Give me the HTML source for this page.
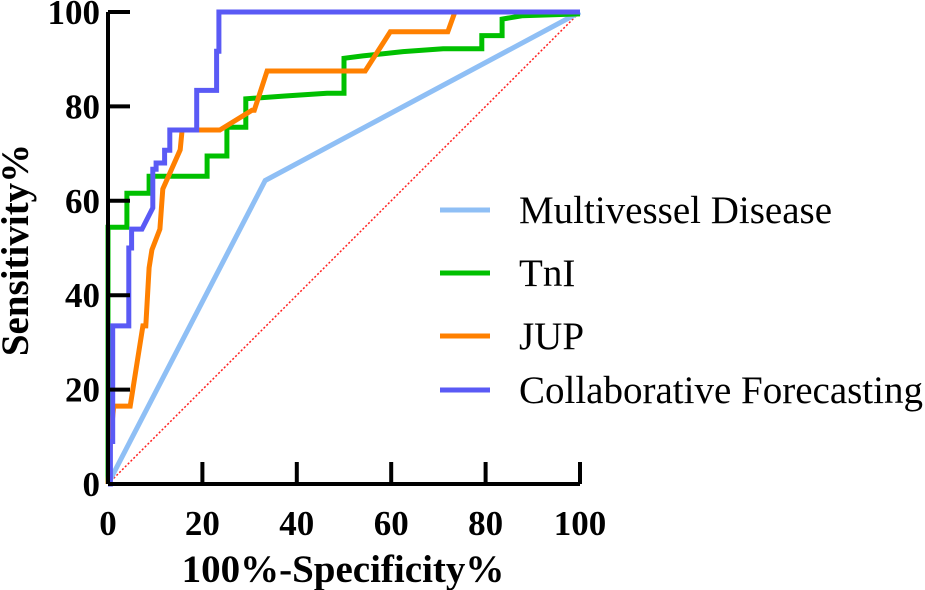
<!DOCTYPE html>
<html><head><meta charset="utf-8"><style>
html,body{margin:0;padding:0;background:#fff;}
svg{display:block;font-family:"Liberation Serif",serif;}
</style></head><body>
<svg id="chart" width="925" height="590" viewBox="0 0 925 590">
<g id="marks"></g>
<g id="axes"></g>
<g id="legend"></g>
</svg>
<script>
const xTicks=[0,20,40,60,80,100];
const yTicks=[0,20,40,60,80,100];
const seriesNames=["Multivessel Disease","TnI","JUP","Collaborative Forecasting"];
const seriesColors=["#8fbff5","#00c000","#ff8000","#5a5af5"];
const mvX=[0,33.3,100];
const mvY=[0,64.3,100];
const tniX=[0,0,4,4,8.7,8.7,21,21,25.2,25.2,29.2,29.2,37.5,46.4,50,50,54,62.5,71,79.2,79.2,83.5,83.5,87.7,100];
const tniY=[0,54.4,54.4,61.6,61.6,65.2,65.2,69.5,69.5,75.6,75.6,81.6,82.2,82.8,82.8,90.2,90.7,91.6,92.2,92.2,95,95,98.5,99.2,99.6];
const jupX=[0,0.6,1.2,4.7,7.4,8,8.7,9.3,11,11.6,15.3,15.7,23.7,30.5,31,33.7,54.5,59.8,72,73.5,100];
const jupY=[0,10,16.5,16.5,33.5,33.5,45.8,49.6,54,62.5,70.8,75,75,79.2,79.2,87.5,87.5,95.8,95.8,100,100];
const cfX=[0,0.5,0.5,1,1,4.4,4.4,5,5,7.2,9.5,9.5,10.2,10.2,12,12,13.1,13.1,18.8,18.8,23,23,23.5,23.5,100];
const cfY=[0,0,9,9,33.5,33.5,50,50,54,54,58.5,66.7,66.7,68,68,70.7,70.7,75,75,83.4,83.4,91.7,91.7,100,100];

const X0=108,X1=580,Y0=484,Y1=12;
const sx=v=>X0+(X1-X0)*v/100;
const sy=v=>Y0-(Y0-Y1)*v/100;
const NS="http://www.w3.org/2000/svg";
function mk(tag,attrs,parent){const e=document.createElementNS(NS,tag);for(const k in attrs)e.setAttribute(k,attrs[k]);parent.appendChild(e);return e;}
const marks=document.getElementById('marks'),axes=document.getElementById('axes'),legend=document.getElementById('legend');

const ref=mk('line',{x1:sx(0),y1:sy(0),x2:sx(100),y2:sy(100),stroke:'#ff2020','stroke-width':1.5,'stroke-dasharray':'2,2'},marks);



const allX=[mvX,tniX,jupX,cfX],allY=[mvY,tniY,jupY,cfY];
const slugs=['multivessel-disease-curve','tni-curve','jup-curve','collaborative-forecasting-curve'];
for(let s=0;s<4;s++){
  const pts=allX[s].map((x,i)=>sx(x).toFixed(1)+','+sy(allY[s][i]).toFixed(1)).join(' ');
  const p=mk('polyline',{points:pts,fill:'none',stroke:seriesColors[s],'stroke-width':5,'stroke-linejoin':'miter'},marks);
  
  
}

const xa=mk('path',{d:`M${X0},${Y0}H${X1}`,stroke:'#000','stroke-width':4,fill:'none'},axes);


const ya=mk('path',{d:`M${X0},${Y0}V${Y1}`,stroke:'#000','stroke-width':4,fill:'none'},axes);


xTicks.forEach(t=>{
  if(t>0){const l=mk('line',{x1:sx(t),y1:Y0,x2:sx(t),y2:Y0-22,stroke:'#000','stroke-width':4},axes);
  
  }
  const tx=mk('text',{x:sx(t),y:535,'text-anchor':'middle','font-size':35,'font-weight':'bold'},axes);
  tx.textContent=t;
  
  
});
yTicks.forEach(t=>{
  if(t>0){const l=mk('line',{x1:X0,y1:sy(t),x2:X0+22,y2:sy(t),stroke:'#000','stroke-width':4},axes);
  
  }
  const tx=mk('text',{x:100,y:sy(t)+12,'text-anchor':'end','font-size':35,'font-weight':'bold'},axes);
  tx.textContent=t;
  
  
});
const xt=mk('text',{x:343,y:582,'text-anchor':'middle','font-size':39,'font-weight':'bold'},axes);
xt.textContent='100%-Specificity%';


const yt=mk('text',{x:0,y:0,transform:'translate(28,250) rotate(-90)','text-anchor':'middle','font-size':39,'font-weight':'bold'},axes);
yt.textContent='Sensitivity%';



const legY=[210,273,336,390];
for(let s=0;s<4;s++){
  const g=mk('g',{},legend);
  
  
  mk('line',{x1:440,y1:legY[s],x2:490,y2:legY[s],stroke:seriesColors[s],'stroke-width':5},g);
  const t=mk('text',{x:519,y:legY[s]+13,'font-size':39},g);
  t.textContent=seriesNames[s];
}
</script>
</body></html>
